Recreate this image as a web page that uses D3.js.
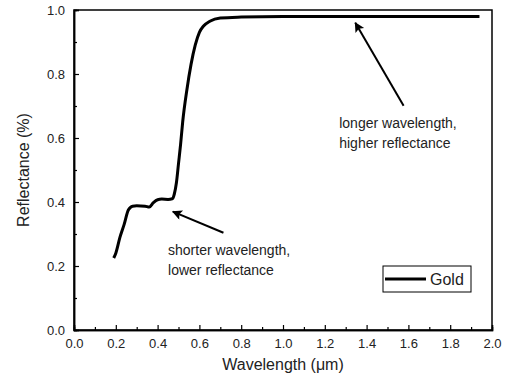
<!DOCTYPE html>
<html>
<head>
<meta charset="utf-8">
<script src="https://cdn.jsdelivr.net/npm/d3@7"></script>
<style>
  body { margin: 0; background: #fff; }
  svg { display: block; font-family: 'Liberation Sans', Arial, Helvetica, sans-serif; }
</style>
</head>
<body>
<div id="chart"></div>
<script>
const wavelength = [0.19, 0.20, 0.22, 0.24, 0.26, 0.28, 0.30, 0.34, 0.36, 0.38, 0.40, 0.42, 0.45, 0.47, 0.48, 0.49, 0.50, 0.51, 0.52, 0.54, 0.56, 0.58, 0.60, 0.62, 0.65, 0.70, 0.80, 1.00, 1.50, 1.94]
const reflectance = [0.225, 0.24, 0.29, 0.33, 0.375, 0.387, 0.388, 0.387, 0.384, 0.398, 0.407, 0.409, 0.408, 0.410, 0.425, 0.46, 0.52, 0.58, 0.65, 0.75, 0.83, 0.89, 0.93, 0.95, 0.965, 0.975, 0.978, 0.98, 0.98, 0.98]
const xTicks = [0, 0.2, 0.4, 0.6, 0.8, 1.0, 1.2, 1.4, 1.6, 1.8, 2.0]
const xMinorTicks = [0.1, 0.3, 0.5, 0.7, 0.9, 1.1, 1.3, 1.5, 1.7, 1.9]
const yTicks = [0, 0.2, 0.4, 0.6, 0.8, 1.0]
const yMinorTicks = [0.1, 0.3, 0.5, 0.7, 0.9]
const seriesName = 'Gold'

const width = 508
const height = 384
const margin = { top: 10, right: 16, bottom: 54, left: 74 }
const chartWidth = width - margin.left - margin.right
const chartHeight = height - margin.top - margin.bottom

const svg = d3.select('#chart')
  .append('svg')
  .attr('width', width)
  .attr('height', height)

// arrowhead
svg.append('defs').append('marker')
  .attr('id', 'arrow')
  .attr('viewBox', '0 0 10 10')
  .attr('refX', 9)
  .attr('refY', 5)
  .attr('markerWidth', 7)
  .attr('markerHeight', 5)
  .attr('markerUnits', 'strokeWidth')
  .attr('orient', 'auto')
  .append('path')
  .attr('d', 'M0,0L10,5L0,10L2,5Z')
  .attr('fill', '#000')

const g = svg.append('g')
  .attr('transform', `translate(${margin.left}, ${margin.top})`)

const x = d3.scaleLinear().domain([0, 2]).range([0, chartWidth])
const y = d3.scaleLinear().domain([0, 1]).range([chartHeight, 0])

// frame
g.append('rect')
  .attr('width', chartWidth)
  .attr('height', chartHeight)
  .attr('fill', 'none')
  .attr('stroke', '#000')
  .attr('stroke-width', 1.5)

// X axis (ticks inside)
const xAxis = g.append('g')
  .attr('transform', `translate(0, ${chartHeight})`)
  .call(d3.axisBottom(x).tickValues(xTicks).tickSize(-5).tickPadding(9).tickFormat(d3.format('.1f')))
g.append('g')
  .attr('transform', `translate(0, ${chartHeight})`)
  .call(d3.axisBottom(x).tickValues(xMinorTicks).tickSize(-3).tickFormat(''))

// Y axis
const yAxis = g.append('g')
  .call(d3.axisLeft(y).tickValues(yTicks).tickSize(-5).tickPadding(9).tickFormat(d3.format('.1f')))
g.append('g')
  .call(d3.axisLeft(y).tickValues(yMinorTicks).tickSize(-3).tickFormat(''))

g.selectAll('.domain').attr('stroke-width', 1.5)
g.selectAll('.tick line').attr('stroke-width', 1.2)
g.selectAll('.tick text')
  .attr('font-size', '13px')
  .attr('font-family', "'Liberation Sans', Arial, sans-serif")
  .attr('fill', '#222')

// Axis labels
g.append('text')
  .attr('x', chartWidth / 2)
  .attr('y', chartHeight + 40)
  .attr('text-anchor', 'middle')
  .attr('font-size', '16px')
  .attr('fill', '#222')
  .text('Wavelength (μm)')

g.append('text')
  .attr('transform', 'rotate(-90)')
  .attr('x', -chartHeight / 2)
  .attr('y', -45)
  .attr('text-anchor', 'middle')
  .attr('font-size', '16px')
  .attr('fill', '#222')
  .text('Reflectance (%)')

// Curve
const points = wavelength.map((w, i) => [w, reflectance[i]])
g.append('path')
  .datum(points)
  .attr('fill', 'none')
  .attr('stroke', '#000')
  .attr('stroke-width', 3)
  .attr('stroke-linejoin', 'round')
  .attr('d', d3.line().x(d => x(d[0])).y(d => y(d[1])).curve(d3.curveMonotoneX))

// Annotations
const arrows = [
  { from: [0.715, 0.304], to: [0.473, 0.370] },
  { from: [1.577, 0.701], to: [1.346, 0.960] }
]
g.selectAll('.arrow')
  .data(arrows)
  .enter()
  .append('line')
  .attr('class', 'arrow')
  .attr('x1', d => x(d.from[0]))
  .attr('y1', d => y(d.from[1]))
  .attr('x2', d => x(d.to[0]))
  .attr('y2', d => y(d.to[1]))
  .attr('stroke', '#000')
  .attr('stroke-width', 2)
  .attr('marker-end', 'url(#arrow)')

const notes = [
  { x: 0.45, y: 0.234, lines: ['shorter wavelength,', 'lower reflectance'] },
  { x: 1.269, y: 0.630, lines: ['longer wavelength,', 'higher reflectance'] }
]
notes.forEach(n => {
  const t = g.append('text')
    .attr('x', x(n.x))
    .attr('y', y(n.y))
    .attr('font-size', '14px')
    .attr('fill', '#222')
  n.lines.forEach((line, i) => {
    t.append('tspan')
      .attr('x', x(n.x))
      .attr('dy', i === 0 ? 0 : 20)
      .text(line)
  })
})

// Legend
const legend = svg.append('g').attr('transform', 'translate(383, 266)')
legend.append('rect')
  .attr('width', 88)
  .attr('height', 26)
  .attr('fill', '#fff')
  .attr('stroke', '#000')
  .attr('stroke-width', 1)
legend.append('line')
  .attr('x1', 2)
  .attr('x2', 43)
  .attr('y1', 13)
  .attr('y2', 13)
  .attr('stroke', '#000')
  .attr('stroke-width', 3)
legend.append('text')
  .attr('x', 47)
  .attr('y', 19)
  .attr('font-size', '16px')
  .attr('fill', '#222')
  .text(seriesName)
</script>
</body>
</html>
